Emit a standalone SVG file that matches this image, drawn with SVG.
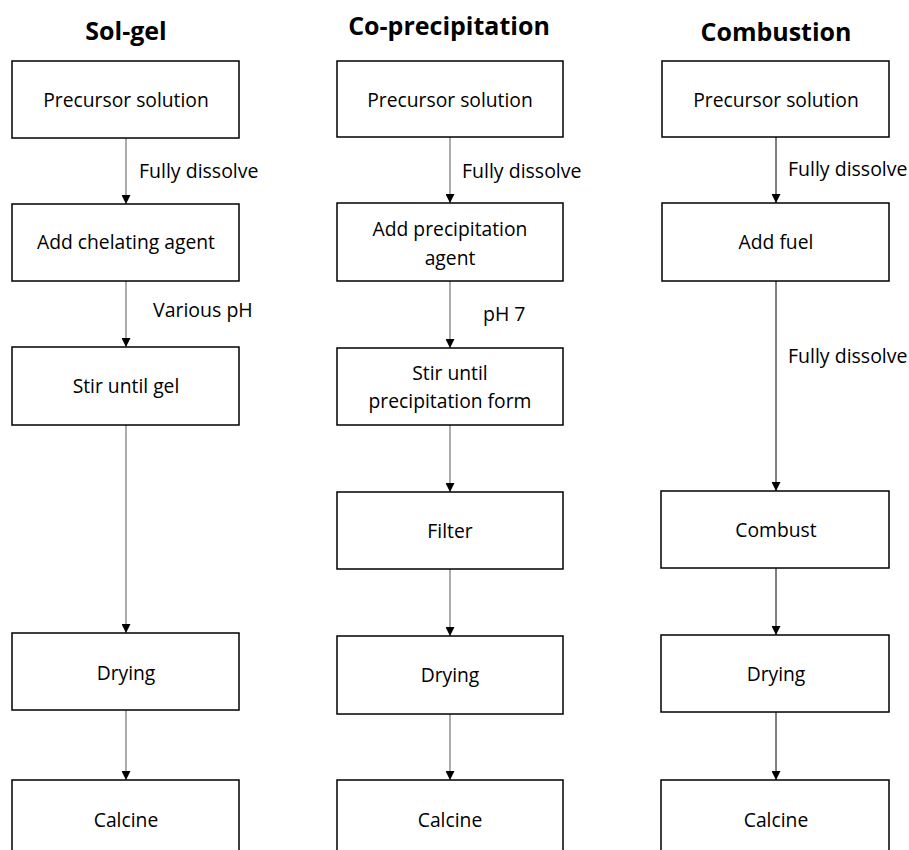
<svg xmlns="http://www.w3.org/2000/svg" width="909" height="850" viewBox="0 0 909 850">
<defs>
<marker id="ah" viewBox="0 0 10 10" refX="10" refY="5" markerWidth="9" markerHeight="9" markerUnits="userSpaceOnUse" orient="auto">
<path d="M0,0 L10,5 L0,10 Z" fill="#000"/>
</marker>
</defs>
<style>
.box{fill:#fff;stroke:#000;stroke-width:1.5}
.t{font-family:"Open Sans","Noto Sans",sans-serif;font-size:19.3px;fill:#000;text-anchor:middle}
.lbl{font-family:"Open Sans","Noto Sans",sans-serif;font-size:19.5px;fill:#000}
.title{font-family:"Open Sans","Noto Sans",sans-serif;font-size:25px;font-weight:bold;fill:#000;text-anchor:middle}
.c{fill:none;stroke:#7f7f7f;stroke-width:1.3;marker-end:url(#ah)}
.ck{fill:none;stroke:#000;stroke-width:1;marker-end:url(#ah)}
</style>
<rect width="909" height="850" fill="#fff"/>
<g id="titles">
<text class="title" x="126" y="40">Sol-gel</text>
<text class="title" x="449" y="35">Co-precipitation</text>
<text class="title" x="776" y="41">Combustion</text>
</g>
<g id="connectors">
<line class="c" x1="126" y1="138" x2="126" y2="204"/>
<line class="c" x1="126" y1="281" x2="126" y2="347"/>
<line class="c" x1="126" y1="425" x2="126" y2="633"/>
<line class="c" x1="126" y1="710" x2="126" y2="780"/>
<line class="c" x1="450" y1="137" x2="450" y2="203"/>
<line class="c" x1="450" y1="281" x2="450" y2="348"/>
<line class="c" x1="450" y1="425" x2="450" y2="492"/>
<line class="c" x1="450" y1="569" x2="450" y2="636"/>
<line class="c" x1="450" y1="714" x2="450" y2="780"/>
<line class="ck" x1="776" y1="137" x2="776" y2="203"/>
<line class="ck" x1="776" y1="281" x2="776" y2="491"/>
<line class="ck" x1="776" y1="568" x2="776" y2="635"/>
<line class="ck" x1="776" y1="712" x2="776" y2="780"/>
<text class="lbl" x="139" y="178">Fully dissolve</text>
<text class="lbl" x="153" y="317">Various pH</text>
<text class="lbl" x="462" y="178">Fully dissolve</text>
<text class="lbl" x="483" y="321">pH 7</text>
<text class="lbl" x="788" y="176">Fully dissolve</text>
<text class="lbl" x="788" y="363">Fully dissolve</text>
</g>
<g id="sg1"><rect class="box" x="12" y="61" width="227" height="77"/><text class="t" x="126" y="107">Precursor solution</text></g>
<g id="sg2"><rect class="box" x="12" y="204" width="227" height="77"/><text class="t" x="126" y="249">Add chelating agent</text></g>
<g id="sg3"><rect class="box" x="12" y="347" width="227" height="78"/><text class="t" x="126" y="393">Stir until gel</text></g>
<g id="sg4"><rect class="box" x="12" y="633" width="227" height="77"/><text class="t" x="126" y="680">Drying</text></g>
<g id="sg5"><rect class="box" x="12" y="780" width="227" height="80"/><text class="t" x="126" y="827">Calcine</text></g>
<g id="cp1"><rect class="box" x="337" y="61" width="226" height="76"/><text class="t" x="450" y="107">Precursor solution</text></g>
<g id="cp2"><rect class="box" x="337" y="203" width="226" height="78"/><text class="t" x="450" y="236">Add precipitation</text><text class="t" x="450" y="265">agent</text></g>
<g id="cp3"><rect class="box" x="337" y="348" width="226" height="77"/><text class="t" x="450" y="380">Stir until</text><text class="t" x="450" y="408">precipitation form</text></g>
<g id="cp4"><rect class="box" x="337" y="492" width="226" height="77"/><text class="t" x="450" y="538">Filter</text></g>
<g id="cp5"><rect class="box" x="337" y="636" width="226" height="78"/><text class="t" x="450" y="682">Drying</text></g>
<g id="cp6"><rect class="box" x="337" y="780" width="226" height="80"/><text class="t" x="450" y="827">Calcine</text></g>
<g id="cb1"><rect class="box" x="662" y="61" width="227" height="76"/><text class="t" x="776" y="107">Precursor solution</text></g>
<g id="cb2"><rect class="box" x="662" y="203" width="227" height="78"/><text class="t" x="776" y="249">Add fuel</text></g>
<g id="cb3"><rect class="box" x="661" y="491" width="228" height="77"/><text class="t" x="776" y="537">Combust</text></g>
<g id="cb4"><rect class="box" x="661" y="635" width="228" height="77"/><text class="t" x="776" y="681">Drying</text></g>
<g id="cb5"><rect class="box" x="661" y="780" width="228" height="80"/><text class="t" x="776" y="827">Calcine</text></g>
</svg>
